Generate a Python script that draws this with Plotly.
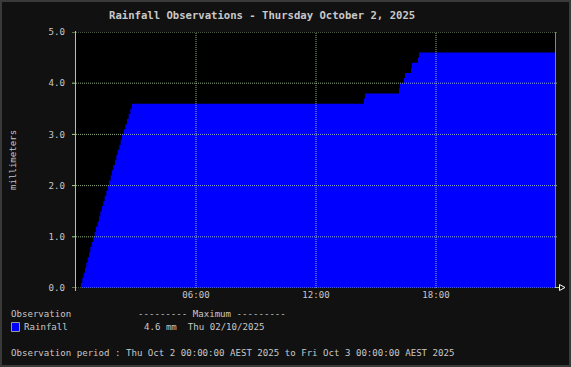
import plotly.graph_objects as go

# ---- data ----
day = "2025-10-02"
times = ["00:00", "00:15", "00:19", "00:23", "00:27", "00:31", "00:35", "00:39", "00:43", "00:47",
         "00:52", "00:56", "01:00", "01:05", "01:09", "01:13", "01:18", "01:22", "01:26", "01:31",
         "01:35", "01:39", "01:44", "01:48", "01:52", "01:57", "02:01", "02:05", "02:10", "02:14",
         "02:18", "02:23", "02:28", "02:33", "02:38", "02:43", "02:48",
         "14:24", "14:27", "16:09", "16:12", "16:24", "16:27", "16:45", "16:48", "17:06", "17:09",
         "23:59"]
rain = [0.0, 0.1, 0.2, 0.3, 0.4, 0.5, 0.6, 0.7, 0.8, 0.9,
        1.0, 1.1, 1.2, 1.3, 1.4, 1.5, 1.6, 1.7, 1.8, 1.9,
        2.0, 2.1, 2.2, 2.3, 2.4, 2.5, 2.6, 2.7, 2.8, 2.9,
        3.0, 3.1, 3.2, 3.3, 3.4, 3.5, 3.6,
        3.7, 3.8, 3.9, 4.0, 4.1, 4.2, 4.3, 4.4, 4.5, 4.6,
        4.6]
y_ticks = [0.0, 1.0, 2.0, 3.0, 4.0, 5.0]
x_tick_times = ["06:00", "12:00", "18:00"]

title_text = "Rainfall Observations - Thursday October 2, 2025"
series_name = "Rainfall"
max_text = "4.6 mm  Thu 02/10/2025"
period_text = "Observation period : Thu Oct 2 00:00:00 AEST 2025 to Fri Oct 3 00:00:00 AEST 2025"

# ---- layout geometry ----
WIDTH, HEIGHT = 571, 367
L, R, T, B = 76, 15, 32, 79
PW = WIDTH - L - R
PH = HEIGHT - T - B


def PX(px):
    return (px - L) / PW


def PY(py):
    return (HEIGHT - B - py) / PH


FONT = "DejaVu Sans Mono"
TXT = "#c8c8c8"
GRID = "rgba(190,230,170,0.75)"
GREEN = "#a2d084"
FS = 9.1

xs = [f"{day} {t}" for t in times]
x_start, x_end = f"{day} 00:00", "2025-10-03 00:00"

fig = go.Figure()
fig.add_trace(go.Scatter(
    x=xs, y=rain, mode="lines", line=dict(shape="hv", width=0, color="#0000ff"),
    fill="tozeroy", fillcolor="#0000ff", name=series_name, showlegend=False,
    hoverinfo="skip"))

shapes = []
# gridlines drawn above the data
for t in x_tick_times:
    shapes.append(dict(type="line", xref="x", yref="paper", x0=f"{day} {t}", x1=f"{day} {t}",
                       y0=0, y1=1, layer="above",
                       line=dict(color=GRID, width=1, dash="1px,1px")))
for v in y_ticks:
    shapes.append(dict(type="line", xref="paper", yref="y", x0=0, x1=PX(557), y0=v, y1=v,
                       layer="above",
                       line=dict(color=GRID, width=1, dash="1px,1px")))
# right olive line
shapes.append(dict(type="line", xref="paper", yref="paper", x0=PX(555.5), x1=PX(555.5),
                   y0=0, y1=1, layer="above", line=dict(color="#8e8e3c", width=1)))
# left axis line
shapes.append(dict(type="line", xref="paper", yref="paper", x0=PX(75.5), x1=PX(75.5),
                   y0=PY(291), y1=PY(31), layer="above", line=dict(color=GREEN, width=1)))
# y ticks
for v in y_ticks:
    shapes.append(dict(type="line", xref="paper", yref="y", x0=PX(72), x1=PX(76), y0=v, y1=v,
                       layer="above", line=dict(color=GREEN, width=1)))
# bottom-right arrow
shapes.append(dict(type="line", xref="paper", yref="paper", x0=PX(555), x1=PX(559),
                   y0=PY(287.5), y1=PY(287.5), layer="above", line=dict(color=GREEN, width=1)))
shapes.append(dict(type="path", xref="paper", yref="paper",
                   path=f"M {PX(559.5)},{PY(284.5)} L {PX(565)},{PY(287.5)} L {PX(559.5)},{PY(290.5)} Z",
                   layer="above", line=dict(color="#ffffff", width=1), fillcolor="rgba(0,0,0,0)"))
# legend swatch
shapes.append(dict(type="rect", xref="paper", yref="paper", x0=PX(11.5), x1=PX(19.5),
                   y0=PY(331.5), y1=PY(322.5), layer="above",
                   line=dict(color="#9a9a9a", width=1), fillcolor="#0000ff"))
# outer frame
shapes.append(dict(type="rect", xref="paper", yref="paper", x0=PX(0), x1=PX(571),
                   y0=PY(367), y1=PY(0), layer="above",
                   line=dict(color="#3a3a3a", width=4), fillcolor="rgba(0,0,0,0)"))

ann = []


def text(px, py, s, size=FS, anchor="left", **kw):
    ann.append(dict(x=PX(px), y=PY(py), xref="paper", yref="paper", text=s, showarrow=False,
                    xanchor=anchor, yanchor="middle", borderpad=0,
                    font=dict(family=FONT, size=size, color=TXT), **kw))


text(262, 15, f"<b>{title_text}</b>", size=10.6, anchor="center")
text(13, 160, "millimeters", anchor="center", textangle=-90)
text(10, 314, "Observation")
text(137, 314, "--------- Maximum ---------")
text(23, 327, series_name)
text(143, 327, max_text)
text(10, 353, period_text)

fig.update_layout(
    width=WIDTH, height=HEIGHT,
    margin=dict(l=L, r=R, t=T, b=B, pad=0),
    paper_bgcolor="#111111", plot_bgcolor="#000000",
    showlegend=False,
    shapes=shapes, annotations=ann,
    xaxis=dict(type="date", range=[x_start, x_end], showgrid=False, zeroline=False,
               showline=False, tickvals=[f"{day} {t}" for t in x_tick_times],
               ticktext=x_tick_times, ticks="", fixedrange=True,
               tickfont=dict(family=FONT, size=FS, color=TXT)),
    yaxis=dict(range=[0, 5], showgrid=False, zeroline=False, showline=False,
               tickvals=y_ticks, ticktext=[f"{v:.1f}" for v in y_ticks], ticks="",
               ticklabelstandoff=10, fixedrange=True,
               tickfont=dict(family=FONT, size=FS, color=TXT)),
)

fig.write_html("out.html")
